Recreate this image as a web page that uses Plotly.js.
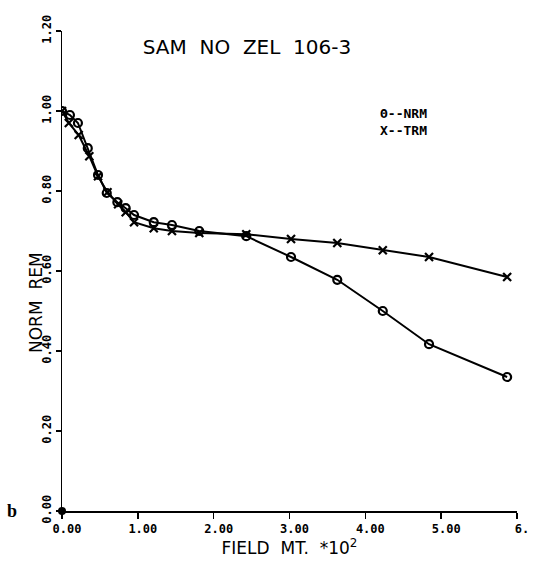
<!DOCTYPE html>
<html>
<head>
<meta charset="utf-8">
<script src="https://cdn.plot.ly/plotly-3.0.1.min.js"></script>
<style>html,body{margin:0;padding:0;background:#fff;}#chart{width:555px;height:561px;}</style>
</head>
<body>
<div id="chart"></div>
<script>
// Field (mT x 10^2)
const fieldNRM = [0, 0.105, 0.21, 0.34, 0.475, 0.59, 0.73, 0.84, 0.95, 1.21, 1.45, 1.81, 2.43, 3.02, 3.63, 4.23, 4.84, 5.87];
const nrm      = [1.00, 0.99, 0.97, 0.907, 0.84, 0.795, 0.772, 0.757, 0.74, 0.722, 0.715, 0.70, 0.687, 0.635, 0.578, 0.50, 0.417, 0.335];
const fieldTRM = [0, 0.09, 0.22, 0.36, 0.475, 0.60, 0.74, 0.84, 0.95, 1.21, 1.45, 1.81, 2.43, 3.02, 3.63, 4.23, 4.84, 5.87];
const trm      = [1.00, 0.97, 0.94, 0.887, 0.837, 0.797, 0.767, 0.747, 0.722, 0.707, 0.70, 0.695, 0.692, 0.68, 0.67, 0.652, 0.635, 0.585];
const originX = [0];
const originY = [0];
const xTickVals = [0, 1, 2, 3, 4, 5, 6];
const xTickText = ["0.00", "1.00", "2.00", "3.00", "4.00", "5.00", "6."];
const yTickVals = [0, 0.2, 0.4, 0.6, 0.8, 1.0, 1.2];
const yTickText = ["0.00", "0.20", "0.40", "0.60", "0.80", "1.00", "1.20"];

const tickFont = {family: "DejaVu Sans Mono", size: 12, color: "#000", weight: "bold"};

const traces = [
  {x: fieldNRM, y: nrm, mode: "lines+markers", name: "NRM",
   line: {color: "#000", width: 2},
   marker: {symbol: "circle-open", size: 8, color: "#000", line: {width: 2.2, color: "#000"}}},
  {x: fieldTRM, y: trm, mode: "lines+markers", name: "TRM",
   line: {color: "#000", width: 2},
   marker: {symbol: "x-thin-open", size: 8, color: "#000", line: {width: 2.2, color: "#000"}}},
  {x: originX, y: originY, mode: "markers", name: "origin",
   marker: {symbol: "circle", size: 8, color: "#000"}, cliponaxis: false}
];

const layout = {
  width: 555, height: 561,
  margin: {l: 62, r: 38, t: 31, b: 50},
  paper_bgcolor: "#fff", plot_bgcolor: "#fff",
  showlegend: false,
  title: {text: "SAM  NO  ZEL  106-3", x: 247/555, xanchor: "center", y: 1 - 47/561, yanchor: "middle",
          font: {family: "DejaVu Sans", size: 20, color: "#000"}},
  xaxis: {
    range: [0, 6], tickmode: "array", tickvals: xTickVals, ticktext: xTickText,
    showgrid: false, zeroline: false, showline: true, linecolor: "#000", linewidth: 1.5,
    ticks: "outside", ticklen: 6, tickwidth: 1.5, tickcolor: "#000",
    tickfont: tickFont, ticklabelshift: 5,
    title: {text: "FIELD  MT.  *10<sup>2</sup>", standoff: 2, font: {family: "DejaVu Sans", size: 17, color: "#000"}}
  },
  yaxis: {
    range: [0, 1.2], tickmode: "array", tickvals: yTickVals, ticktext: yTickText,
    showgrid: false, zeroline: false, showline: true, linecolor: "#000", linewidth: 1.5,
    ticks: "outside", ticklen: 5, tickwidth: 1.5, tickcolor: "#000",
    tickangle: -90, tickfont: tickFont
  },
  annotations: [
    {text: "NORM  REM", xref: "paper", yref: "paper", x: (36-62)/455, y: (511-303)/480,
     showarrow: false, textangle: -90, xanchor: "center", yanchor: "middle",
     font: {family: "DejaVu Sans", size: 17, color: "#000"}},
    {text: "Θ--NRM<br>X--TRM", xref: "paper", yref: "paper", x: (378-62)/455, y: (511-122)/480,
     showarrow: false, xanchor: "left", yanchor: "middle", align: "left",
     font: {family: "DejaVu Sans Mono", size: 13, color: "#000", weight: "bold"}},
    {text: "b", xref: "paper", yref: "paper", x: (12-62)/455, y: 0,
     showarrow: false, xanchor: "center", yanchor: "middle",
     font: {family: "Liberation Serif", size: 18, color: "#000", weight: "bold"}}
  ]
};

Plotly.newPlot("chart", traces, layout, {displayModeBar: false, staticPlot: true});
</script>
</body>
</html>
